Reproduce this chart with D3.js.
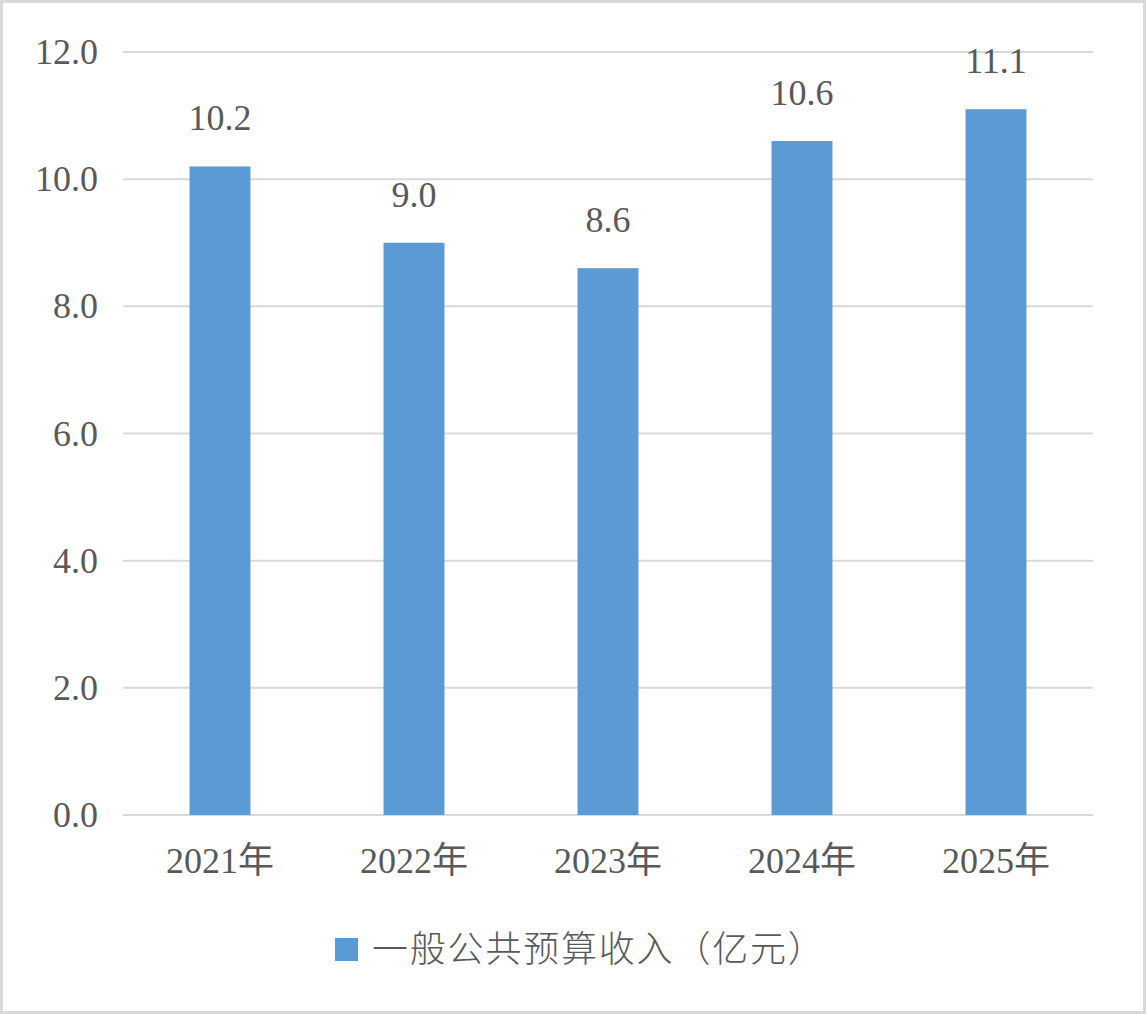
<!DOCTYPE html>
<html><head><meta charset="utf-8">
<script src="https://cdn.jsdelivr.net/npm/d3@7/dist/d3.min.js"></script>
<style>
html,body{margin:0;padding:0;background:#fff;}
svg text{font-family:"Liberation Serif","Noto Sans CJK SC",serif;fill:#595959;}
</style></head>
<body>
<svg id="c" width="1146" height="1014"></svg>
<script>
const categories = ["2021年","2022年","2023年","2024年","2025年"];
const values = [10.2, 9.0, 8.6, 10.6, 11.1];
const yTicks = [0,2,4,6,8,10,12];
const seriesName = "一般公共预算收入（亿元）";

const svg = d3.select("#c");
svg.append("rect").attr("x",1.5).attr("y",1.5).attr("width",1143).attr("height",1011)
  .attr("fill","#fff").attr("stroke","#d9d9d9").attr("stroke-width",3);

const x = d3.scaleBand().domain(categories).range([123,1093]).paddingInner(0.686).paddingOuter(0.343);
const y = d3.scaleLinear().domain([0,12]).range([815,52]);

const g = svg.append("g");
g.selectAll("line.grid").data(yTicks).enter().append("line")
  .attr("x1",123).attr("x2",1093).attr("y1",d=>y(d)).attr("y2",d=>y(d))
  .attr("stroke","#d9d9d9").attr("stroke-width",2);

g.selectAll("text.yt").data(yTicks).enter().append("text")
  .attr("x",98).attr("y",d=>y(d)+12).attr("text-anchor","end")
  .attr("font-size",36).text(d=>d3.format(".1f")(d));

g.selectAll("rect.bar").data(values).enter().append("rect")
  .attr("x",(d,i)=>x(categories[i])).attr("width",x.bandwidth())
  .attr("y",d=>y(d)).attr("height",d=>y(0)-y(d)).attr("fill","#5b9bd5");

g.selectAll("text.val").data(values).enter().append("text")
  .attr("x",(d,i)=>x(categories[i])+x.bandwidth()/2).attr("y",d=>y(d)-36)
  .attr("text-anchor","middle").attr("font-size",36).text(d=>d3.format(".1f")(d));

g.selectAll("text.xt").data(categories).enter().append("text")
  .attr("x",d=>x(d)+x.bandwidth()/2).attr("y",873)
  .attr("text-anchor","middle").attr("font-size",36).text(d=>d);

svg.append("rect").attr("x",335).attr("y",938).attr("width",23).attr("height",23).attr("fill","#5b9bd5");
svg.append("text").attr("x",372).attr("y",962).attr("font-size",36).attr("font-weight",300)
  .attr("letter-spacing","1.8px").text(seriesName);
</script>
</body></html>
